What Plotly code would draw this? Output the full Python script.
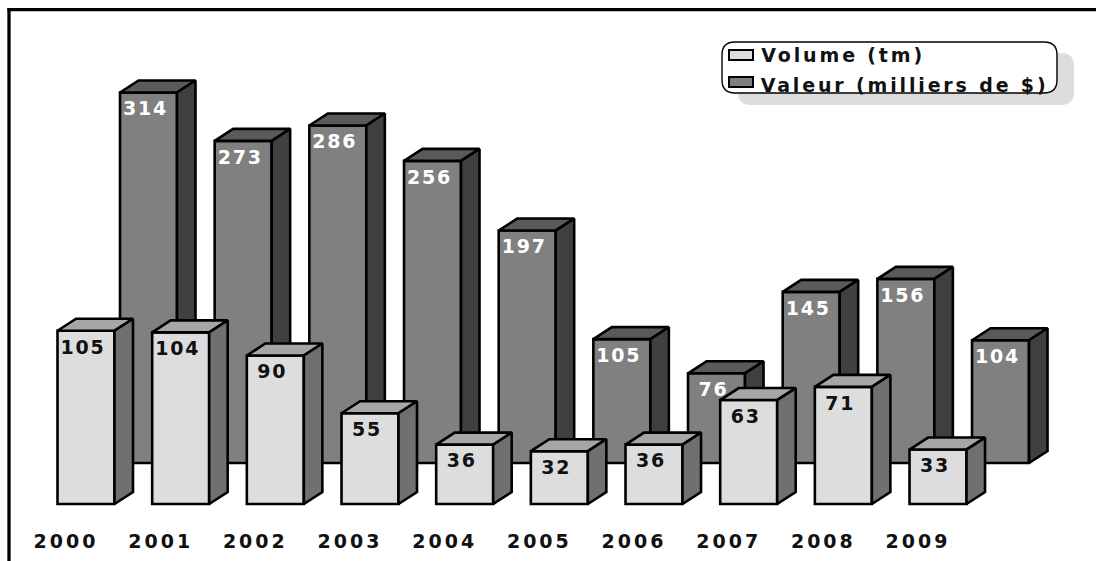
import plotly.graph_objects as go

years = [2000, 2001, 2002, 2003, 2004, 2005, 2006, 2007, 2008, 2009]
volume = [105, 104, 90, 55, 36, 32, 36, 63, 71, 33]
valeur = [314, 273, 286, 256, 197, 105, 76, 145, 156, 104]
series_names = ["Volume (tm)", "Valeur (milliers de $)"]

W, H = 1096, 561
PLOT_BOTTOM = 528
STEP = 94.67
TICK0 = 66
BAR_W = 57 / STEP
DX = 18.5 / STEP
DEPTH = 12
FONT = "DejaVu Sans"
OUTLINE = 2.6


def px(x):
    return x / W


def py(y):
    return 1 - y / H


def faces(values, left_offset, scale):
    dy = DEPTH / scale
    tx, ty, sx, sy = [], [], [], []
    for yr, v in zip(years, values):
        l = yr + left_offset
        r = l + BAR_W
        tx += [l, l + DX, r + DX, r, l, None]
        ty += [v, v + dy, v + dy, v, v, None]
        sx += [r, r + DX, r + DX, r, r, None]
        sy += [0, dy, v + dy, v, 0, None]
    return tx, ty, sx, sy


def add_series(fig, values, name, yaxis, left_offset, scale, col_front, col_top, col_side, col_text):
    fig.add_trace(go.Bar(x=years, y=values, name=name, width=BAR_W, offset=left_offset,
                         marker=dict(color=col_front, line=dict(color="black", width=OUTLINE)),
                         yaxis=yaxis, showlegend=False))
    tx, ty, sx, sy = faces(values, left_offset, scale)
    for xs, ys, col in ((tx, ty, col_top), (sx, sy, col_side)):
        fig.add_trace(go.Scatter(x=xs, y=ys, mode="lines", fill="toself", fillcolor=col,
                                 line=dict(color="black", width=OUTLINE), yaxis=yaxis,
                                 showlegend=False, hoverinfo="skip"))
    fig.add_trace(go.Scatter(x=[yr + left_offset + BAR_W / 2 - 3 / STEP for yr in years],
                             y=[v - 18 / scale for v in values],
                             text=[str(v) for v in values], mode="text", yaxis=yaxis,
                             textposition="middle center", showlegend=False,
                             textfont=dict(family=FONT, size=19, color=col_text, weight="bold")))


fig = go.Figure()
SCALE_BACK = 1.18
SCALE_FRONT = 1.65
BASE_BACK = 463
BASE_FRONT = 504
add_series(fig, valeur, series_names[1], "y", (120 - TICK0) / STEP, SCALE_BACK,
           "#808080", "#5A5A5A", "#404040", "#FFFFFF")
add_series(fig, volume, series_names[0], "y2", (57.5 - TICK0) / STEP, SCALE_FRONT,
           "#DDDDDD", "#A6A6A6", "#707070", "#111111")


def round_rect(x0, y0, x1, y1, r):
    X0, X1, Y0, Y1 = px(x0), px(x1), py(y0), py(y1)
    rx, ry = r / W, r / H
    return (f"M{X0 + rx},{Y0} L{X1 - rx},{Y0} Q{X1},{Y0} {X1},{Y0 - ry} L{X1},{Y1 + ry} "
            f"Q{X1},{Y1} {X1 - rx},{Y1} L{X0 + rx},{Y1} Q{X0},{Y1} {X0},{Y1 + ry} "
            f"L{X0},{Y0 - ry} Q{X0},{Y0} {X0 + rx},{Y0} Z")


shapes = [
    dict(type="path", path=round_rect(738, 53, 1074, 105, 13), xref="paper", yref="paper",
         fillcolor="#DDDDDD", line=dict(width=0)),
    dict(type="path", path=round_rect(722, 42, 1057, 93, 13), xref="paper", yref="paper",
         fillcolor="white", line=dict(color="black", width=1.4)),
    dict(type="rect", xref="paper", yref="paper", x0=px(729), x1=px(753), y0=py(50), y1=py(60),
         fillcolor="#DDDDDD", line=dict(color="black", width=2)),
    dict(type="rect", xref="paper", yref="paper", x0=px(729), x1=px(753), y0=py(77), y1=py(87),
         fillcolor="#808080", line=dict(color="black", width=2)),
    dict(type="line", xref="paper", yref="paper", x0=px(9), x1=px(9), y0=py(8), y1=py(561),
         line=dict(color="black", width=3.3)),
    dict(type="line", xref="paper", yref="paper", x0=px(7.4), x1=px(1096), y0=py(9.6), y1=py(9.6),
         line=dict(color="black", width=3.3)),
]
annotations = [
    dict(text=f"<b>{series_names[0]}</b>", xref="paper", yref="paper", x=px(842.5), y=py(55.5),
         xanchor="center", yanchor="middle", showarrow=False,
         font=dict(family=FONT, size=19, color="#111111")),
    dict(text=f"<b>{series_names[1]}</b>", xref="paper", yref="paper", x=px(904), y=py(84.5),
         xanchor="center", yanchor="middle", showarrow=False,
         font=dict(family=FONT, size=19, color="#111111")),
]

fig.update_layout(
    width=W, height=H, margin=dict(l=0, r=0, t=0, b=0),
    paper_bgcolor="white", plot_bgcolor="white", barmode="overlay", showlegend=False,
    shapes=shapes, annotations=annotations,
    xaxis=dict(range=[years[0] - TICK0 / STEP, years[0] + (W - TICK0) / STEP],
               domain=[0, 1], tickmode="array", tickvals=years, ticktext=[str(y) for y in years],
               showgrid=False, zeroline=False, showline=False, ticks="",
               tickfont=dict(family=FONT, size=19, color="#111111", weight="bold")),
    yaxis=dict(domain=[1 - PLOT_BOTTOM / H, 1], visible=False,
               range=[(BASE_BACK - PLOT_BOTTOM) / SCALE_BACK, BASE_BACK / SCALE_BACK]),
    yaxis2=dict(domain=[1 - PLOT_BOTTOM / H, 1], visible=False, overlaying="y",
                range=[(BASE_FRONT - PLOT_BOTTOM) / SCALE_FRONT, BASE_FRONT / SCALE_FRONT]),
)

page_css = """
var s = document.createElement('style');
s.textContent = 'html,body{margin:0;padding:0;overflow:hidden}'
  + '.xtick text{letter-spacing:3px}'
  + '.textpoint text{letter-spacing:1.8px}'
  + '.annotation-text{letter-spacing:2.85px}';
document.head.appendChild(s);
"""
fig.write_html("out.html", post_script=page_css, config={"displayModeBar": False})
